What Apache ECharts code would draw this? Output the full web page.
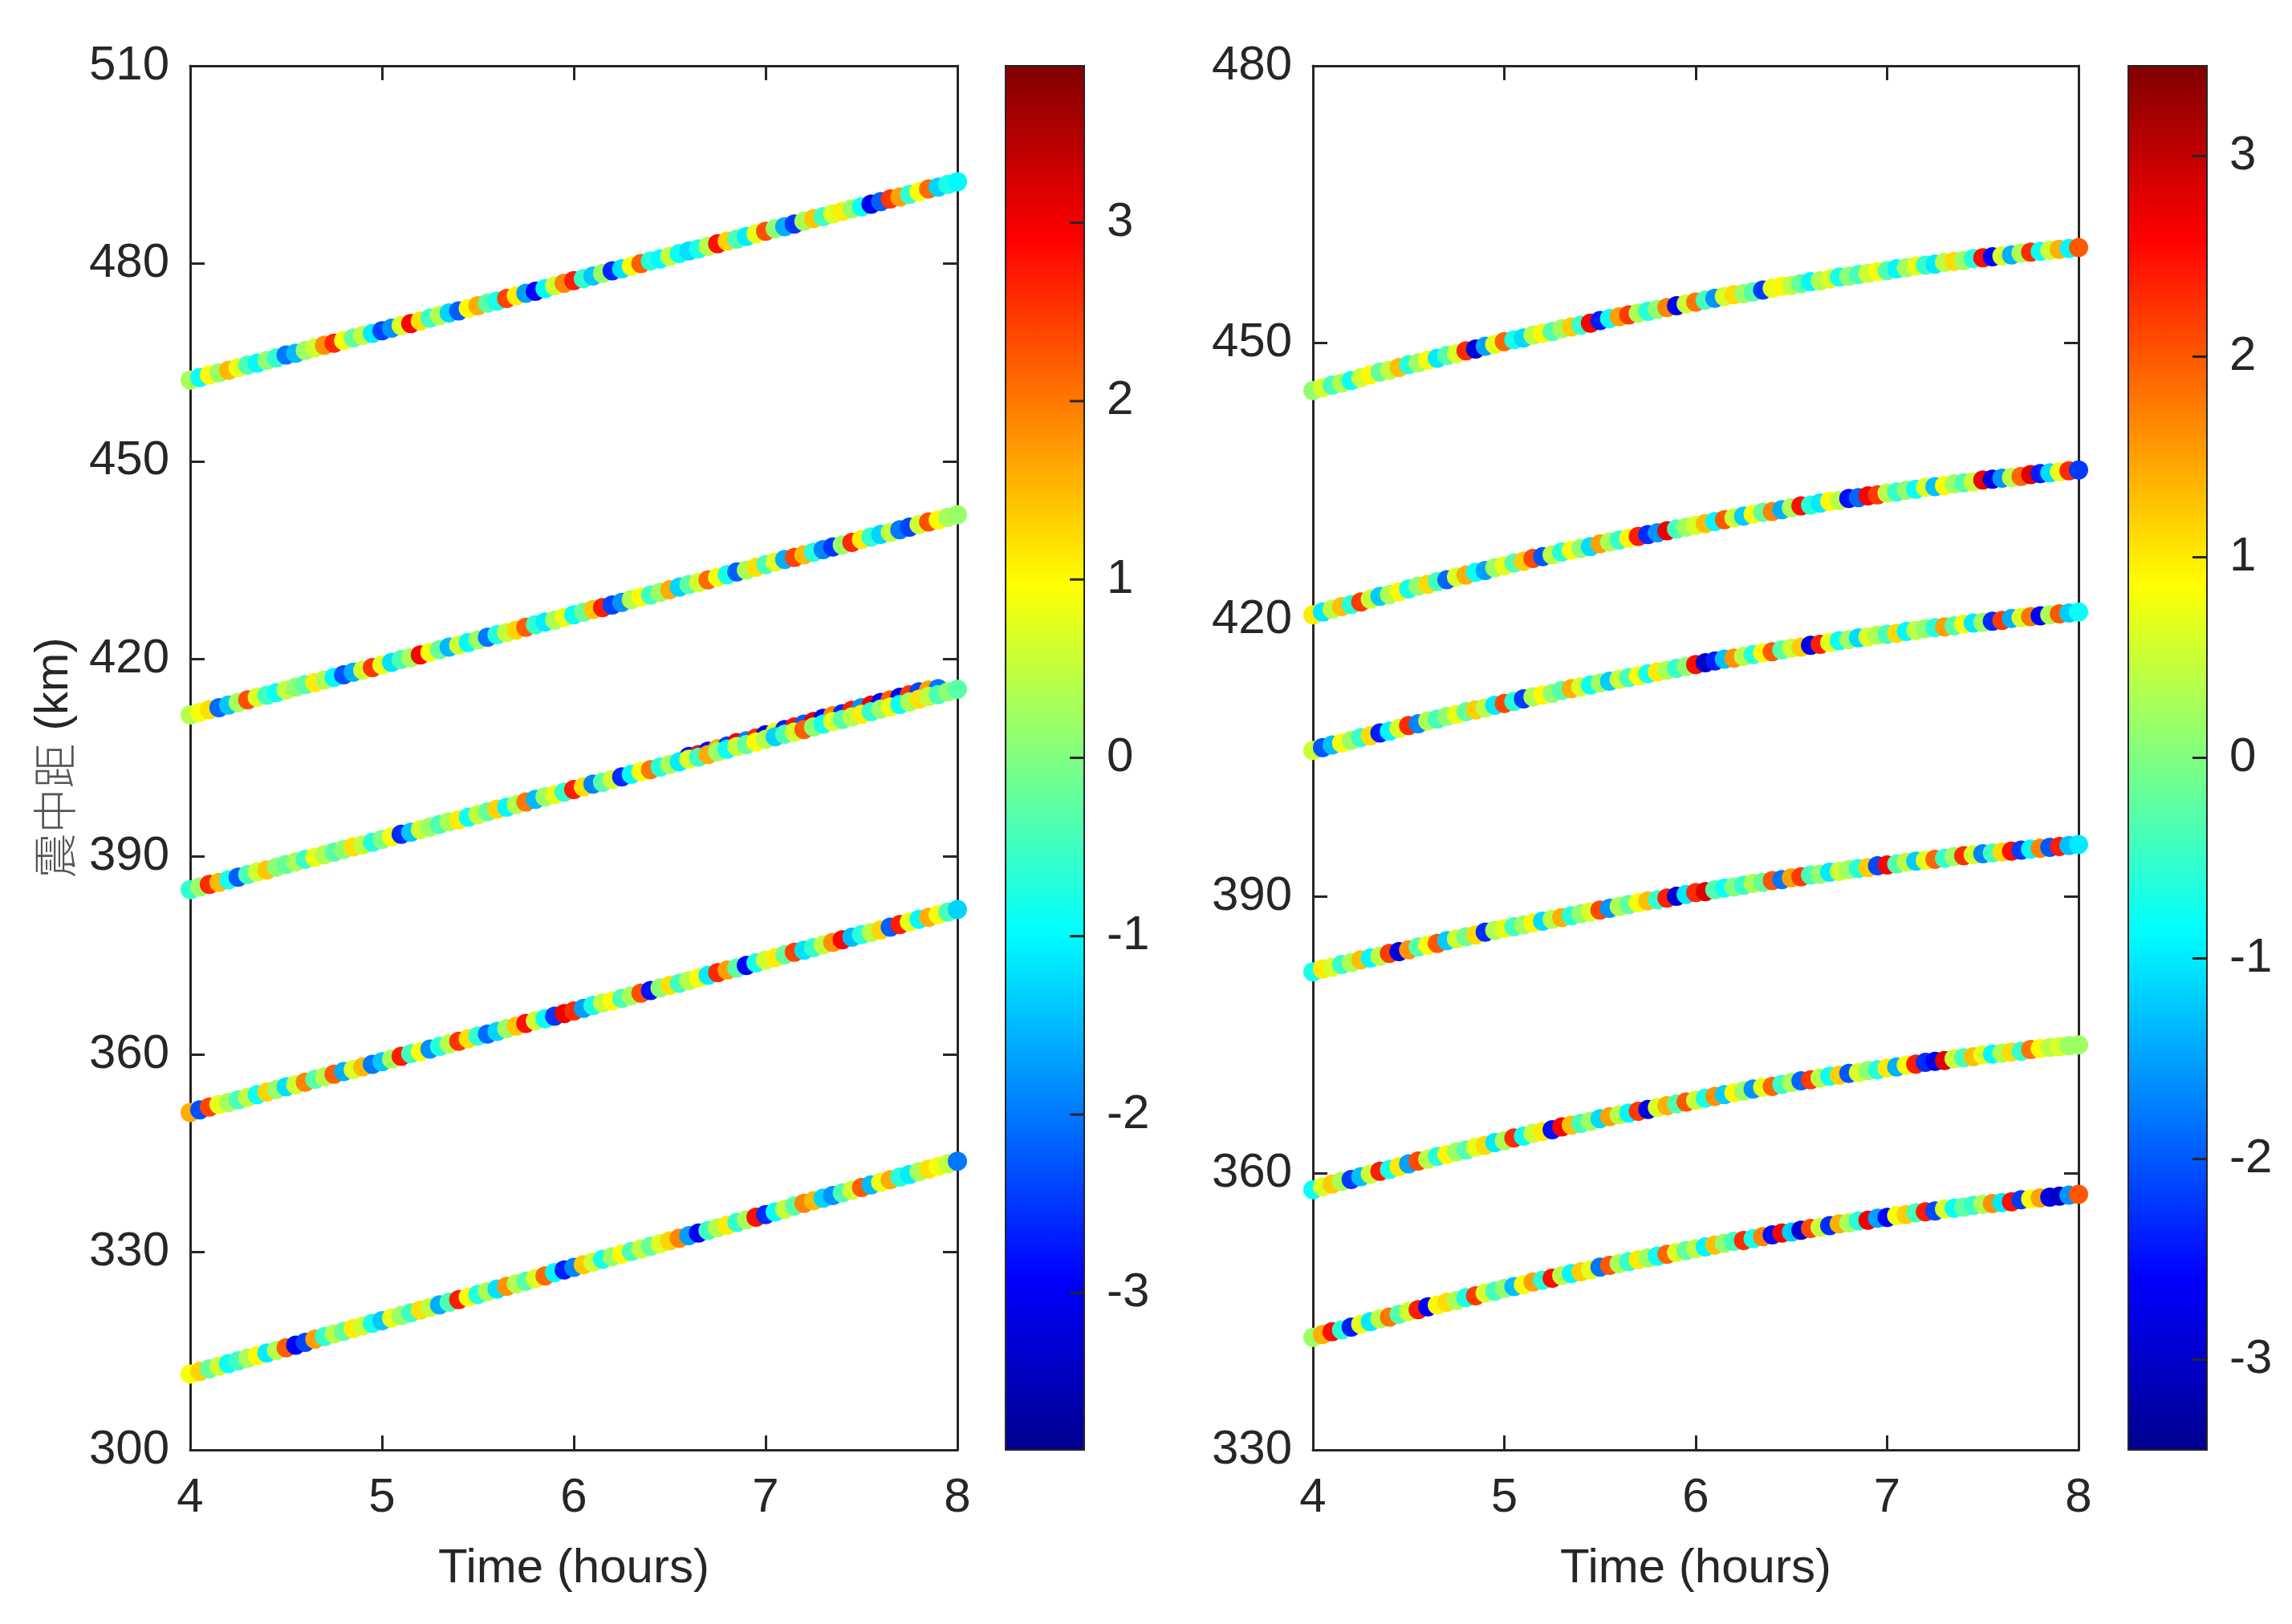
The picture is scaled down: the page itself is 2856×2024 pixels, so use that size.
<!DOCTYPE html>
<html>
<head>
<meta charset="utf-8">
<title>震中距 scatter</title>
<script src="https://cdn.jsdelivr.net/npm/echarts@6/dist/echarts.min.js"></script>
<style>
  html, body { margin: 0; padding: 0; background: #fff; }
  #main { width: 2856px; height: 2024px; }
</style>
</head>
<body>
<div id="main"></div>
<script>
// time (hours), shared by every track
var hours = [4,4.05,4.1,4.15,4.2,4.25,4.3,4.35,4.4,4.45,
  4.5,4.55,4.6,4.65,4.7,4.75,4.8,4.85,4.9,4.95,
  5,5.05,5.1,5.15,5.2,5.25,5.3,5.35,5.4,5.45,
  5.5,5.55,5.6,5.65,5.7,5.75,5.8,5.85,5.9,5.95,
  6,6.05,6.1,6.15,6.2,6.25,6.3,6.35,6.4,6.45,
  6.5,6.55,6.6,6.65,6.7,6.75,6.8,6.85,6.9,6.95,
  7,7.05,7.1,7.15,7.2,7.25,7.3,7.35,7.4,7.45,
  7.5,7.55,7.6,7.65,7.7,7.75,7.8,7.85,7.9,7.95,
  8];
var hoursL3b = [6.6,6.65,6.7,6.75,6.8,6.85,6.9,6.95,7,7.05,7.1,7.15,7.2,7.25,7.3,7.35,7.4,7.45,7.5,7.55,7.6,7.65,7.7,7.75,7.8,7.85,7.9];

// ---- left panel: epicentral distance (km) ----
var distL1 = [462.3,462.7,463.1,463.4,463.8,464.2,464.6,464.9,465.3,465.7,
  466.1,466.4,466.8,467.2,467.6,467.9,468.3,468.7,469.1,469.4,
  469.8,470.2,470.6,470.9,471.3,471.7,472.1,472.5,472.8,473.2,
  473.6,474.0,474.3,474.7,475.1,475.5,475.8,476.2,476.6,477.0,
  477.4,477.7,478.1,478.5,478.9,479.2,479.6,480.0,480.4,480.7,
  481.1,481.5,481.9,482.2,482.6,483.0,483.4,483.7,484.1,484.5,
  484.9,485.3,485.6,486.0,486.4,486.8,487.1,487.5,487.9,488.3,
  488.6,489.0,489.4,489.8,490.1,490.5,490.9,491.3,491.6,492.0,
  492.4];
var distL2 = [411.5,411.9,412.3,412.6,413.0,413.4,413.8,414.2,414.5,414.9,
  415.3,415.7,416.1,416.4,416.8,417.2,417.6,418.0,418.3,418.7,
  419.1,419.5,419.9,420.2,420.6,421.0,421.4,421.8,422.1,422.5,
  422.9,423.3,423.7,424.0,424.4,424.8,425.2,425.6,425.9,426.3,
  426.7,427.1,427.5,427.8,428.2,428.6,429.0,429.4,429.7,430.1,
  430.5,430.9,431.3,431.6,432.0,432.4,432.8,433.2,433.5,433.9,
  434.3,434.7,435.1,435.4,435.8,436.2,436.6,437.0,437.3,437.7,
  438.1,438.5,438.9,439.2,439.6,440.0,440.4,440.8,441.1,441.5,
  441.9];
var distL3 = [385.0,385.4,385.8,386.1,386.5,386.9,387.3,387.7,388.0,388.4,
  388.8,389.2,389.6,389.9,390.3,390.7,391.1,391.5,391.8,392.2,
  392.6,393.0,393.4,393.7,394.1,394.5,394.9,395.3,395.6,396.0,
  396.4,396.8,397.2,397.5,397.9,398.3,398.7,399.1,399.4,399.8,
  400.2,400.6,401.0,401.3,401.7,402.1,402.5,402.9,403.2,403.6,
  404.0,404.4,404.8,405.1,405.5,405.9,406.3,406.7,407.0,407.4,
  407.8,408.2,408.6,408.9,409.3,409.7,410.1,410.5,410.8,411.2,
  411.6,412.0,412.4,412.7,413.1,413.5,413.9,414.3,414.6,415.0,
  415.4];
// second, mostly hidden track just above L3
var distL3b = [405.2,405.5,406.0,406.4,406.8,407.3,407.6,408.0,408.5,408.9,409.3,409.7,410.1,410.5,
  411.0,411.4,411.7,412.2,412.6,413.0,413.4,413.8,414.2,414.6,415.0,415.3,415.5];
var distL4 = [351.2,351.6,352.0,352.4,352.7,353.1,353.5,353.9,354.3,354.7,
  355.1,355.4,355.8,356.2,356.6,357.0,357.4,357.7,358.1,358.5,
  358.9,359.3,359.7,360.1,360.4,360.8,361.2,361.6,362.0,362.4,
  362.8,363.1,363.5,363.9,364.3,364.7,365.1,365.4,365.8,366.2,
  366.6,367.0,367.4,367.8,368.1,368.5,368.9,369.3,369.7,370.1,
  370.5,370.8,371.2,371.6,372.0,372.4,372.8,373.1,373.5,373.9,
  374.3,374.7,375.1,375.5,375.8,376.2,376.6,377.0,377.4,377.8,
  378.2,378.5,378.9,379.3,379.7,380.1,380.5,380.8,381.2,381.6,
  382.0];
var distL5 = [311.5,311.9,312.3,312.7,313.1,313.5,313.9,314.3,314.7,315.1,
  315.5,315.9,316.3,316.8,317.2,317.6,318.0,318.4,318.8,319.2,
  319.6,320.0,320.4,320.8,321.2,321.6,322.0,322.4,322.8,323.2,
  323.6,324.0,324.4,324.8,325.2,325.6,326.0,326.4,326.9,327.3,
  327.7,328.1,328.5,328.9,329.3,329.7,330.1,330.5,330.9,331.3,
  331.7,332.1,332.5,332.9,333.3,333.7,334.1,334.5,334.9,335.3,
  335.7,336.1,336.5,337.0,337.4,337.8,338.2,338.6,339.0,339.4,
  339.8,340.2,340.6,341.0,341.4,341.8,342.2,342.6,343.0,343.4,
  343.8];

// ---- left panel: colour values ----
var colL1 = [0.3,-0.9,1.0,0.2,1.5,0.8,-0.4,-1.0,0.1,-0.6,
  -2.0,-1.5,0.2,0.6,1.8,2.6,0.9,-0.2,0.5,-1.1,
  -2.4,-1.8,0.7,2.9,1.2,-0.5,0.4,-1.3,-2.2,1.0,
  1.6,-0.3,-0.8,2.4,1.1,-1.7,-2.9,-1.0,0.6,1.9,
  2.7,-0.6,-1.4,0.2,-2.6,-1.2,0.9,2.2,-0.7,-1.0,
  0.5,-0.9,-1.2,-0.8,0.4,2.8,1.3,-0.4,-1.1,0.8,
  2.3,0.1,-1.6,-2.5,0.3,1.4,-0.5,0.7,1.1,0.2,
  -0.9,-3.1,-2.2,2.5,1.7,-0.6,0.9,2.1,-1.3,-0.8,
  -1.0];
var colL2 = [0.4,0.9,1.2,-2.1,-1.4,0.3,2.3,0.7,-0.5,-0.9,
  0.5,0.1,-0.3,1.1,0.4,-1.0,-2.3,-1.6,0.6,2.5,
  0.8,-1.2,-0.4,0.3,2.9,0.9,-0.2,-1.5,0.6,-1.0,
  0.2,-2.0,-0.7,0.5,1.3,2.2,-0.6,-1.1,0.3,0.8,
  -0.9,-0.2,1.4,2.7,-2.4,-1.8,0.4,1.0,-0.5,0.2,
  1.6,-1.3,-0.3,0.6,2.1,0.9,-0.8,-2.2,0.3,1.2,
  -0.4,0.7,-1.6,2.4,1.5,-0.7,-1.9,-2.5,0.2,2.6,
  1.1,-0.6,-1.3,0.5,-2.0,-2.4,0.6,2.3,1.0,0.3,
  0.2];
var colL3 = [-0.6,0.2,2.6,1.5,-0.8,-2.2,-0.4,0.6,1.4,0.1,
  -0.2,0.3,-0.5,0.8,0.4,-0.3,0.1,1.2,0.5,-0.7,
  0.0,0.9,-2.6,-1.4,0.6,0.2,-0.4,0.3,1.1,-0.9,
  0.5,-0.2,1.3,-1.0,0.4,2.0,-1.5,0.2,0.8,-0.6,
  2.7,1.2,-1.9,-0.3,0.6,-2.6,-1.0,0.9,2.0,-0.7,
  0.3,-1.1,0.7,-0.5,1.6,0.2,-0.9,0.5,-0.2,1.0,
  0.4,-1.3,-0.4,0.6,2.2,0.1,-0.8,0.7,-0.3,0.4,
  1.1,-0.6,0.2,0.8,-0.9,0.3,1.2,0.5,-0.4,0.1,
  -0.3];
var colL3b = [-2.8,2.9,-3.0,1.6,-2.5,3.0,-1.9,2.6,-3.2,0.8,-2.7,2.8,-2.2,3.1,
  -3.0,1.9,-2.6,2.7,-1.8,3.0,-2.9,2.2,-3.1,2.5,-2.4,1.7,-2.0];
var colL4 = [1.6,-2.3,2.4,0.8,0.3,-0.4,0.5,-0.9,1.3,0.2,
  -1.2,0.6,1.9,-0.3,0.4,2.2,-1.6,0.7,1.5,-2.0,
  -1.4,0.3,2.7,-0.5,0.9,-1.8,-0.7,0.4,2.5,1.2,
  -0.6,-2.1,-1.3,0.2,1.4,2.8,0.6,-0.9,-2.5,3.0,
  2.6,-1.7,-0.8,0.5,1.0,-0.4,0.3,2.3,-2.8,0.1,
  1.2,-0.5,0.4,0.9,-1.1,2.6,1.7,-0.3,-2.9,-0.8,
  0.6,1.1,-0.2,2.4,-1.2,-0.6,0.5,1.8,2.9,-1.5,
  -0.7,0.4,1.3,-2.2,2.7,0.8,-1.0,1.6,0.9,-0.4,
  -1.3];
var colL5 = [0.9,1.3,-0.2,0.6,-0.9,-0.5,0.3,1.0,-1.1,0.4,
  2.2,-3.0,-2.4,1.7,-0.6,0.4,-0.2,1.1,0.6,-0.8,
  -1.4,0.8,0.2,-0.5,1.2,0.5,-1.6,-0.4,2.7,0.9,
  -0.7,0.3,-1.2,1.8,0.4,-0.3,0.7,2.1,-1.0,-2.7,
  -1.9,1.4,0.6,-0.8,0.2,1.0,-0.4,0.5,-0.2,0.7,
  1.3,1.9,-1.7,-3.0,-0.5,0.4,1.1,-0.6,0.3,2.8,
  -2.6,-0.9,0.5,-0.3,1.9,1.5,-1.3,-1.8,-0.4,0.6,
  2.2,-1.5,0.8,1.6,-0.7,-1.1,0.3,1.2,0.9,0.5,
  -2.0];

// ---- right panel: epicentral distance (km) ----
var distR1 = [444.8,445.1,445.4,445.6,445.9,446.2,446.5,446.8,447.0,447.3,
  447.6,447.8,448.1,448.3,448.6,448.8,449.1,449.3,449.6,449.8,
  450.1,450.3,450.5,450.8,451.0,451.2,451.5,451.7,451.9,452.1,
  452.4,452.6,452.8,453.0,453.2,453.4,453.6,453.8,454.0,454.2,
  454.4,454.6,454.8,455.0,455.2,455.3,455.5,455.7,455.9,456.1,
  456.2,456.4,456.6,456.7,456.9,457.1,457.2,457.4,457.5,457.7,
  457.8,458.0,458.1,458.3,458.4,458.5,458.7,458.8,458.9,459.1,
  459.2,459.3,459.4,459.5,459.7,459.8,459.9,460.0,460.1,460.2,
  460.3];
var distR2 = [420.5,420.8,421.1,421.4,421.6,421.9,422.2,422.5,422.7,423.0,
  423.3,423.6,423.8,424.1,424.3,424.6,424.8,425.1,425.3,425.6,
  425.8,426.1,426.3,426.6,426.8,427.0,427.3,427.5,427.7,427.9,
  428.2,428.4,428.6,428.8,429.0,429.2,429.4,429.6,429.8,430.0,
  430.2,430.4,430.6,430.8,431.0,431.2,431.4,431.6,431.7,431.9,
  432.1,432.3,432.4,432.6,432.8,432.9,433.1,433.2,433.4,433.5,
  433.7,433.8,434.0,434.1,434.3,434.4,434.5,434.7,434.8,434.9,
  435.1,435.2,435.3,435.4,435.5,435.7,435.8,435.9,436.0,436.1,
  436.2];
var distR3 = [405.8,406.1,406.4,406.6,406.9,407.2,407.4,407.7,407.9,408.2,
  408.5,408.7,409.0,409.2,409.5,409.7,410.0,410.2,410.4,410.7,
  410.9,411.1,411.4,411.6,411.8,412.0,412.3,412.5,412.7,412.9,
  413.1,413.3,413.5,413.7,413.9,414.1,414.3,414.5,414.7,414.9,
  415.1,415.3,415.5,415.7,415.8,416.0,416.2,416.4,416.5,416.7,
  416.9,417.0,417.2,417.3,417.5,417.7,417.8,418.0,418.1,418.3,
  418.4,418.5,418.7,418.8,419.0,419.1,419.2,419.3,419.5,419.6,
  419.7,419.8,419.9,420.1,420.2,420.3,420.4,420.5,420.6,420.7,
  420.8];
var distR4 = [381.8,382.1,382.3,382.6,382.8,383.1,383.3,383.5,383.8,384.0,
  384.2,384.5,384.7,384.9,385.2,385.4,385.6,385.8,386.1,386.3,
  386.5,386.7,386.9,387.1,387.3,387.5,387.7,387.9,388.1,388.3,
  388.5,388.7,388.9,389.1,389.3,389.5,389.6,389.8,390.0,390.2,
  390.4,390.5,390.7,390.9,391.0,391.2,391.4,391.5,391.7,391.8,
  392.0,392.1,392.3,392.4,392.6,392.7,392.9,393.0,393.1,393.3,
  393.4,393.5,393.7,393.8,393.9,394.0,394.1,394.3,394.4,394.5,
  394.6,394.7,394.8,394.9,395.0,395.1,395.2,395.3,395.4,395.5,
  395.6];
var distR5 = [358.2,358.5,358.8,359.1,359.3,359.6,359.9,360.2,360.4,360.7,
  361.0,361.3,361.5,361.8,362.0,362.3,362.5,362.8,363.0,363.3,
  363.5,363.8,364.0,364.3,364.5,364.7,365.0,365.2,365.4,365.6,
  365.9,366.1,366.3,366.5,366.7,366.9,367.1,367.3,367.5,367.7,
  367.9,368.1,368.3,368.5,368.7,368.9,369.1,369.3,369.4,369.6,
  369.8,370.0,370.1,370.3,370.5,370.6,370.8,370.9,371.1,371.2,
  371.4,371.5,371.7,371.8,372.0,372.1,372.2,372.4,372.5,372.6,
  372.8,372.9,373.0,373.1,373.2,373.4,373.5,373.6,373.7,373.8,
  373.9];
var distR6 = [342.2,342.5,342.8,343.0,343.3,343.6,343.9,344.2,344.4,344.7,
  345.0,345.2,345.5,345.7,346.0,346.2,346.5,346.7,347.0,347.2,
  347.5,347.7,347.9,348.2,348.4,348.6,348.9,349.1,349.3,349.5,
  349.8,350.0,350.2,350.4,350.6,350.8,351.0,351.2,351.4,351.6,
  351.8,352.0,352.2,352.4,352.6,352.7,352.9,353.1,353.3,353.5,
  353.6,353.8,354.0,354.1,354.3,354.5,354.6,354.8,354.9,355.1,
  355.2,355.4,355.5,355.7,355.8,355.9,356.1,356.2,356.3,356.5,
  356.6,356.7,356.8,356.9,357.1,357.2,357.3,357.4,357.5,357.6,
  357.7];

// ---- right panel: colour values ----
var colR1 = [0.1,0.6,-0.4,0.3,-0.8,0.5,0.9,-0.2,0.4,1.3,
  -0.6,0.2,0.8,-1.0,-0.3,0.6,2.3,-2.9,-1.5,0.7,
  1.9,-0.7,-1.1,0.4,0.9,-0.3,0.2,1.2,-0.5,2.6,
  -2.4,-0.8,1.5,2.2,0.3,-0.6,0.1,1.7,-2.7,0.5,
  1.8,-0.4,-1.6,0.6,1.1,0.2,-0.3,-2.2,0.7,0.9,
  0.4,-0.2,-0.9,0.3,0.6,-0.7,0.1,-0.4,0.5,0.8,
  -0.3,-0.9,0.2,0.7,-0.5,-1.0,0.4,1.1,0.2,-0.6,
  2.5,-2.6,0.6,-1.4,0.3,2.3,-0.8,0.5,1.4,-0.9,
  2.0];
var colR2 = [1.0,-1.0,0.4,1.3,-0.6,2.2,0.5,-1.2,0.3,0.9,
  -0.7,0.1,1.1,-0.4,-1.9,0.6,1.4,-0.8,-1.5,0.2,
  0.7,-0.3,1.2,2.1,-2.0,0.4,-0.6,0.8,0.1,-1.1,
  1.5,0.3,-0.5,0.9,2.4,-2.3,-1.6,2.7,-0.4,0.2,
  0.6,1.3,-0.9,2.0,0.5,-1.2,0.8,-0.2,1.7,-1.4,
  0.3,2.5,-0.6,-1.0,0.9,0.4,-2.5,-1.9,2.6,2.2,
  0.4,-0.5,0.1,-0.8,0.6,-1.3,0.9,0.2,-0.3,0.5,
  2.7,-2.8,-1.6,0.4,1.9,2.8,-2.4,-1.1,0.7,2.3,
  -2.2];
var colR3 = [0.5,-2.0,-1.3,0.8,0.2,-0.5,1.1,-2.4,-0.9,0.6,
  2.3,-1.7,0.3,-0.4,0.1,0.7,-0.2,1.2,0.4,-1.0,
  2.1,-0.6,-2.2,0.3,0.9,0.1,-0.3,1.4,0.6,-0.8,
  0.2,-1.2,0.5,-0.4,0.8,-0.7,1.0,0.3,-0.5,0.1,
  2.5,-3.0,-2.4,-1.3,1.6,0.4,-0.6,0.9,2.0,-0.3,
  0.5,1.2,-2.7,2.4,0.7,-0.8,0.2,-1.1,0.6,0.3,
  -0.4,1.1,-0.9,0.4,0.1,-0.6,1.5,-0.3,0.8,-1.0,
  0.2,-2.3,2.2,-1.4,0.6,1.8,-2.6,0.3,2.0,-1.2,
  -0.8];
var colR4 = [-0.7,1.0,0.6,-0.5,0.3,1.3,-0.9,0.4,2.2,-2.8,
  1.6,-0.3,0.8,2.0,-1.2,0.5,-0.1,1.1,-2.3,0.3,
  0.7,-0.4,0.2,0.9,-1.1,0.4,1.4,-0.6,0.1,0.6,
  2.1,-1.6,0.3,-0.2,0.8,1.3,-0.5,2.4,-2.9,-1.0,
  2.3,2.8,-0.3,-0.8,0.0,-0.5,0.3,-0.2,2.0,-1.8,
  1.5,2.2,-0.4,0.1,-1.0,0.5,0.2,-0.6,1.2,-2.1,
  2.6,-0.3,0.4,-1.2,0.7,1.9,-0.5,0.2,2.3,0.6,
  -1.7,-0.4,1.1,2.5,-2.2,-0.9,1.7,-2.0,2.4,-1.3,
  -1.0];
var colR5 = [-0.8,0.6,1.2,0.3,-2.2,-1.3,0.5,2.4,-0.7,1.0,
  -1.5,2.1,0.4,-0.6,0.9,0.2,-0.3,0.7,1.1,-1.0,
  0.3,2.3,-0.8,0.5,1.0,-2.5,2.6,1.3,-0.4,0.2,
  -1.1,1.5,0.4,-0.9,2.2,-2.8,0.6,1.4,-0.3,2.0,
  0.5,-0.7,1.6,-1.2,0.9,0.2,-1.6,0.7,1.9,-0.5,
  0.3,-1.9,2.2,0.4,-0.8,1.2,-2.0,0.6,0.1,-0.6,
  1.0,-1.4,0.8,2.4,-2.3,-2.7,2.8,0.5,-0.4,1.3,
  0.7,-0.9,0.3,1.1,-0.5,1.8,0.9,0.4,0.6,0.2,
  0.2];
var colR6 = [0.2,1.4,2.5,-0.6,-2.4,0.7,-1.0,0.4,1.8,-0.3,
  0.5,2.4,-2.7,0.9,1.1,0.3,-0.7,2.2,0.6,-0.4,
  0.1,-1.3,0.8,1.5,-0.6,2.5,0.4,-0.9,1.2,0.7,
  -1.8,2.0,0.3,-0.5,1.0,0.2,-0.8,1.9,0.6,-0.2,
  0.4,-0.9,1.3,0.1,-0.4,2.3,-0.7,1.7,-2.5,2.6,
  -1.2,-2.9,2.1,0.5,-2.3,1.4,0.3,-0.6,2.7,-1.5,
  -2.6,0.8,1.2,-0.4,2.4,-2.1,0.6,-0.8,-0.2,-0.5,
  0.3,1.6,-1.0,2.5,-2.2,0.8,1.5,-2.8,-3.0,-1.6,
  2.0];

// axis ranges / tick labels
var xTicks = [4, 5, 6, 7, 8];
var cbarTicks = [-3, -2, -1, 0, 1, 2, 3];
var leftRange = [300, 510];
var rightRange = [330, 480];
var leftCRange = [-3.88, 3.88];
var rightCRange = [-3.45, 3.45];

// jet colormap
var JET = ['#00008F', '#0000FF', '#0080FF', '#00FFFF', '#80FF80', '#FFFF00', '#FF8000', '#FF0000', '#800000'];

var FONT = "'Liberation Sans', Arial, sans-serif";
var INK = '#262626';

function pts(t, d, c) {
  var out = [];
  for (var i = 0; i < t.length; i++) out.push([t[i], d[i], c[i]]);
  return out;
}

function track(t, d, c, axis) {
  return {
    type: 'scatter',
    xAxisIndex: axis, yAxisIndex: axis,
    symbol: 'circle', symbolSize: 24,
    clip: false,
    itemStyle: { opacity: 1 },
    data: pts(t, d, c)
  };
}

// colour bar: gradient rect plus inward ticks on its right edge
function colorbar(axis, range) {
  var stops = [];
  for (var i = 0; i < JET.length; i++) {
    stops.push({ offset: i / (JET.length - 1), color: JET[JET.length - 1 - i] });
  }
  return {
    type: 'custom',
    xAxisIndex: axis, yAxisIndex: axis,
    silent: true,
    data: [[0, 1, range[0], range[1]]],
    renderItem: function (params, api) {
      var tl = api.coord([api.value(0), api.value(3)]);
      var br = api.coord([api.value(1), api.value(2)]);
      var kids = [{
        type: 'rect',
        shape: { x: tl[0], y: tl[1], width: br[0] - tl[0], height: br[1] - tl[1] },
        style: {
          fill: new echarts.graphic.LinearGradient(0, 0, 0, 1, stops),
          stroke: INK, lineWidth: 2
        }
      }];
      cbarTicks.forEach(function (v) {
        var p = api.coord([api.value(1), v]);
        kids.push({
          type: 'line',
          shape: { x1: p[0], y1: p[1], x2: p[0] - 18, y2: p[1] },
          style: { stroke: INK, lineWidth: 3 }
        });
      });
      return { type: 'group', children: kids };
    }
  };
}

function xMain(grid, pos, showLabel, withName) {
  return {
    type: 'value', gridIndex: grid, position: pos,
    min: xTicks[0], max: xTicks[xTicks.length - 1], interval: 1,
    axisLine: { show: true, onZero: false, lineStyle: { color: INK, width: 3 } },
    axisTick: { show: true, inside: true, length: 18, lineStyle: { color: INK, width: 3 } },
    axisLabel: { show: showLabel, margin: 30, fontSize: 60, color: INK, fontFamily: FONT },
    splitLine: { show: false },
    name: withName ? 'Time (hours)' : '',
    nameLocation: 'middle', nameGap: 118,
    nameTextStyle: { fontSize: 60, color: INK, fontFamily: FONT }
  };
}

function yMain(grid, pos, range, showLabel, name) {
  return {
    type: 'value', gridIndex: grid, position: pos,
    min: range[0], max: range[1], interval: 30,
    axisLine: { show: true, onZero: false, lineStyle: { color: INK, width: 3 } },
    axisTick: { show: true, inside: true, length: 18, lineStyle: { color: INK, width: 3 } },
    axisLabel: { show: showLabel, margin: 26, fontSize: 60, color: INK, fontFamily: FONT },
    splitLine: { show: false },
    name: name || '',
    nameLocation: 'middle', nameGap: 140,
    nameTextStyle: {
      fontSize: 58, color: INK, fontFamily: FONT,
      rich: { c: { fontFamily: "'Noto Sans CJK SC'", fontSize: 56, color: '#555', fontWeight: 300 } }
    }
  };
}

function xBar(grid) {
  return { type: 'value', gridIndex: grid, min: 0, max: 1, show: false };
}

function yBar(grid, range) {
  return {
    type: 'value', gridIndex: grid, position: 'right',
    min: range[0], max: range[1],
    axisLine: { show: false, onZero: false },
    axisTick: { show: false },
    axisLabel: { show: true, margin: 28, fontSize: 60, color: INK, fontFamily: FONT, customValues: cbarTicks },
    splitLine: { show: false }
  };
}

var chart = echarts.init(document.getElementById('main'));
chart.setOption({
  backgroundColor: '#fff',
  animation: false,
  grid: [
    { left: 237, top: 82, width: 956, height: 1725 },
    { left: 1253, top: 82, width: 98, height: 1725 },
    { left: 1636, top: 82, width: 954, height: 1725 },
    { left: 2652, top: 82, width: 98, height: 1725 }
  ],
  xAxis: [
    xMain(0, 'bottom', true, true),
    xMain(0, 'top', false, false),
    xBar(1),
    xMain(2, 'bottom', true, true),
    xMain(2, 'top', false, false),
    xBar(3)
  ],
  yAxis: [
    yMain(0, 'left', leftRange, true, '{c|震中距} (km)'),
    yMain(0, 'right', leftRange, false),
    yBar(1, leftCRange),
    yMain(2, 'left', rightRange, true),
    yMain(2, 'right', rightRange, false),
    yBar(3, rightCRange)
  ],
  visualMap: [
    { type: 'continuous', show: false, dimension: 2, seriesIndex: [0, 1, 2, 3, 4, 5],
      min: leftCRange[0], max: leftCRange[1], inRange: { color: JET } },
    { type: 'continuous', show: false, dimension: 2, seriesIndex: [6, 7, 8, 9, 10, 11],
      min: rightCRange[0], max: rightCRange[1], inRange: { color: JET } }
  ],
  series: [
    track(hours, distL1, colL1, 0),
    track(hours, distL2, colL2, 0),
    track(hoursL3b, distL3b, colL3b, 0),
    track(hours, distL3, colL3, 0),
    track(hours, distL4, colL4, 0),
    track(hours, distL5, colL5, 0),
    track(hours, distR1, colR1, 3),
    track(hours, distR2, colR2, 3),
    track(hours, distR3, colR3, 3),
    track(hours, distR4, colR4, 3),
    track(hours, distR5, colR5, 3),
    track(hours, distR6, colR6, 3),
    colorbar(2, leftCRange),
    colorbar(5, rightCRange)
  ]
});
</script>
</body>
</html>
